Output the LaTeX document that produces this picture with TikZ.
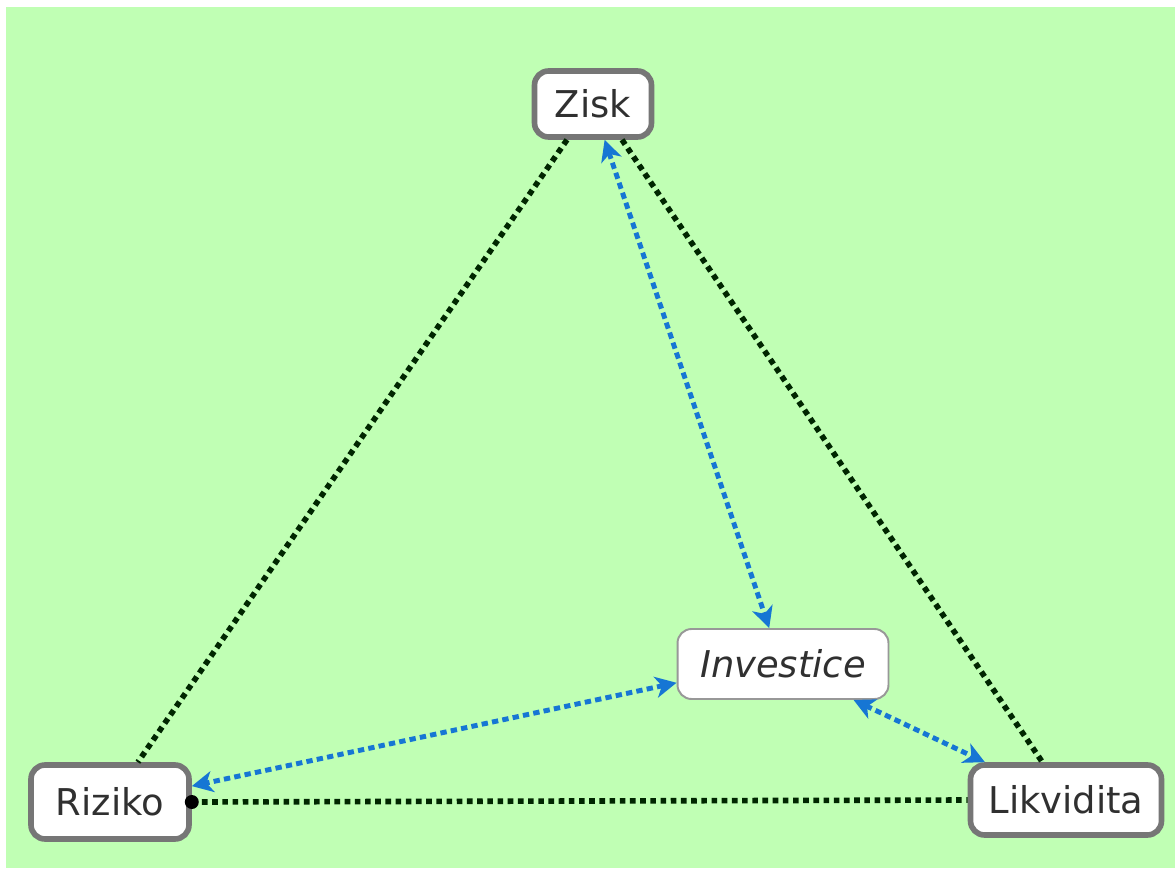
\documentclass[tikz,border=0pt]{standalone}
\usepackage{fontspec}
\setmainfont{DejaVu Sans}
\usepackage{tikz}
\usetikzlibrary{arrows.meta}

\begin{document}
\begin{tikzpicture}[x=0.02cm,y=-0.02cm]
\definecolor{bggreen}{RGB}{192,255,180}
\definecolor{boxgray}{RGB}{118,118,118}
\definecolor{linkblue}{RGB}{22,118,212}
\definecolor{txtgray}{RGB}{48,48,48}
\tikzstyle{term}=[draw=boxgray,line width=3.2pt,fill=white,rounded corners=8pt,text=txtgray,inner sep=0pt,font=\fontsize{21}{25}\selectfont]
\tikzstyle{hub}=[term,line width=1.1pt,draw=boxgray!75,font=\fontsize{21}{25}\selectfont\itshape]
\tikzstyle{tie}=[line width=3.2pt,dash pattern=on 3.2pt off 2.6pt,black!85!green]
\tikzstyle{link}=[line width=2.8pt,dash pattern=on 3.6pt off 2.4pt,linkblue,{Stealth[length=12pt,width=12pt,inset=3.5pt]}-{Stealth[length=12pt,width=12pt,inset=3.5pt]}]
% end of definitions
\useasboundingbox (0,0) rectangle (1175,871);
\fill[bggreen] (6,7) rectangle (1175,868); %background
\node[term,minimum width=2.34cm,minimum height=1.32cm] (zisk) at (593,104) {Zisk};
\node[term,minimum width=3.16cm,minimum height=1.48cm] (riziko) at (110,802) {Riziko};
\node[term,minimum width=3.82cm,minimum height=1.4cm] (likvidita) at (1066,800) {Likvidita};
\node[hub,minimum width=4.22cm,minimum height=1.4cm] (investice) at (783,664) {Investice};
\draw[tie] (zisk.234) -- (riziko.55); %left side
\draw[tie] (zisk.309) -- (likvidita.122); %right side
\draw[tie] (riziko.east) -- (likvidita.west); %base
\fill[black] (riziko.east) circle[radius=0.14cm];
\draw[link] (zisk.288) -- (investice.111);
\draw[link] (investice.190.7) -- (riziko.11.7);
\draw[link] (investice.333) -- (likvidita.155);
\end{tikzpicture}
\end{document}
